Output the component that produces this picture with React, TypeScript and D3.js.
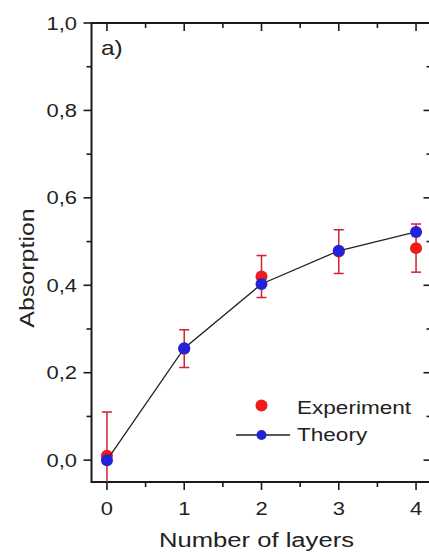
import React from 'react';
import * as d3 from 'd3';

// data
const layers = [0, 1, 2, 3, 4];
const experiment = [0.01, 0.255, 0.42, 0.477, 0.485];
const experimentErr = [0.1, 0.043, 0.048, 0.05, 0.055];
const theory = [0.0, 0.256, 0.403, 0.479, 0.522];
const xTicks = [0, 1, 2, 3, 4];
const xMinor = [0.5, 1.5, 2.5, 3.5];
const yTicks = [0, 0.2, 0.4, 0.6, 0.8, 1.0];
const yMinor = [0.1, 0.3, 0.5, 0.7, 0.9];

const W = 429;
const H = 554;
const m = { left: 91.5, right: 431.5, top: 23, bottom: 482 };
const FONT = '"Liberation Sans", Arial, sans-serif';
const SX = 1.22; // the reference text is drawn wider than Arial
const RED = '#ee1c1c';
const BLUE = '#2222d8';
const AXIS = '#1a1a1a';

const fmt = (v: number) => d3.format('.1f')(v).replace('.', ',');

const T = ({ x, y, size, anchor = 'start', rotate = 0, children }: any) => (
  <text
    transform={`translate(${x},${y}) rotate(${rotate}) scale(${SX},1)`}
    fontSize={size}
    fontFamily={FONT}
    textAnchor={anchor}
    fill="#222"
  >
    {children}
  </text>
);

export default function App() {
  const x = d3.scaleLinear().domain([-0.2, 4.2]).range([m.left, m.right]);
  const y = d3.scaleLinear().domain([-0.05, 1.0]).range([m.bottom, m.top]);

  const line = d3
    .line<number>()
    .x((_, i) => x(layers[i]))
    .y((d) => y(d));

  const capW = 5;

  return (
    <svg
      width={W}
      height={H}
      style={{ position: 'absolute', left: 0, top: 0, background: '#fff' }}
    >
      <defs>
        <clipPath id="plot">
          <rect x={m.left} y={m.top} width={m.right - m.left} height={m.bottom - m.top} />
        </clipPath>
      </defs>

      {/* frame */}
      <rect
        x={m.left}
        y={m.top}
        width={m.right - m.left}
        height={m.bottom - m.top}
        fill="none"
        stroke={AXIS}
        strokeWidth={2}
      />

      {/* x ticks: bottom outward, top inward */}
      {xTicks.map((t) => (
        <g key={'xt' + t}>
          <line x1={x(t)} x2={x(t)} y1={m.bottom} y2={m.bottom + 8} stroke={AXIS} strokeWidth={1.6} />
          <line x1={x(t)} x2={x(t)} y1={m.top} y2={m.top + 8} stroke={AXIS} strokeWidth={1.6} />
          <T x={x(t)} y={515} size={18} anchor="middle">{t}</T>
        </g>
      ))}
      {xMinor.map((t) => (
        <g key={'xm' + t}>
          <line x1={x(t)} x2={x(t)} y1={m.bottom} y2={m.bottom + 5} stroke={AXIS} strokeWidth={1.6} />
          <line x1={x(t)} x2={x(t)} y1={m.top} y2={m.top + 5} stroke={AXIS} strokeWidth={1.6} />
        </g>
      ))}

      {/* y ticks: left outward, right inward */}
      {yTicks.map((t) => (
        <g key={'yt' + t}>
          <line x1={m.left - 8} x2={m.left} y1={y(t)} y2={y(t)} stroke={AXIS} strokeWidth={1.6} />
          <line x1={m.right - 8} x2={m.right} y1={y(t)} y2={y(t)} stroke={AXIS} strokeWidth={1.6} />
          <T x={77} y={y(t) + 6.5} size={18} anchor="end">{fmt(t)}</T>
        </g>
      ))}
      {yMinor.map((t) => (
        <g key={'ym' + t}>
          <line x1={m.left - 5} x2={m.left} y1={y(t)} y2={y(t)} stroke={AXIS} strokeWidth={1.6} />
          <line x1={m.right - 5} x2={m.right} y1={y(t)} y2={y(t)} stroke={AXIS} strokeWidth={1.6} />
        </g>
      ))}

      {/* axis titles */}
      <T x={(m.left + m.right) / 2 - 5} y={547} size={21} anchor="middle">Number of layers</T>
      <T x={34} y={268} size={20.5} anchor="middle" rotate={-90}>Absorption</T>
      <T x={101} y={55} size={20}>a)</T>

      <g clipPath="url(#plot)">
        {/* experiment error bars and points */}
        {layers.map((l, i) => {
          const lo = y(experiment[i] - experimentErr[i]);
          const hi = y(experiment[i] + experimentErr[i]);
          return (
            <g key={'e' + l} stroke="#d41f35" strokeWidth={1.5}>
              <line x1={x(l)} x2={x(l)} y1={lo} y2={hi} />
              <line x1={x(l) - capW} x2={x(l) + capW} y1={hi} y2={hi} />
              <line x1={x(l) - capW} x2={x(l) + capW} y1={lo} y2={lo} />
            </g>
          );
        })}
        {layers.map((l, i) => (
          <circle key={'ep' + l} cx={x(l)} cy={y(experiment[i])} r={6} fill={RED} />
        ))}

        {/* theory line and points */}
        <path d={line(theory) || ''} fill="none" stroke="#222" strokeWidth={1.3} />
        {layers.map((l, i) => (
          <circle key={'tp' + l} cx={x(l)} cy={y(theory[i])} r={6} fill={BLUE} />
        ))}
      </g>

      {/* legend */}
      <circle cx={261.5} cy={405.5} r={6} fill={RED} />
      <T x={297} y={413.5} size={18.5}>Experiment</T>
      <line x1={236} x2={290} y1={435} y2={435} stroke="#222" strokeWidth={1.6} />
      <circle cx={261.5} cy={435} r={5} fill={BLUE} />
      <T x={297} y={441} size={18.5}>Theory</T>
    </svg>
  );
}
